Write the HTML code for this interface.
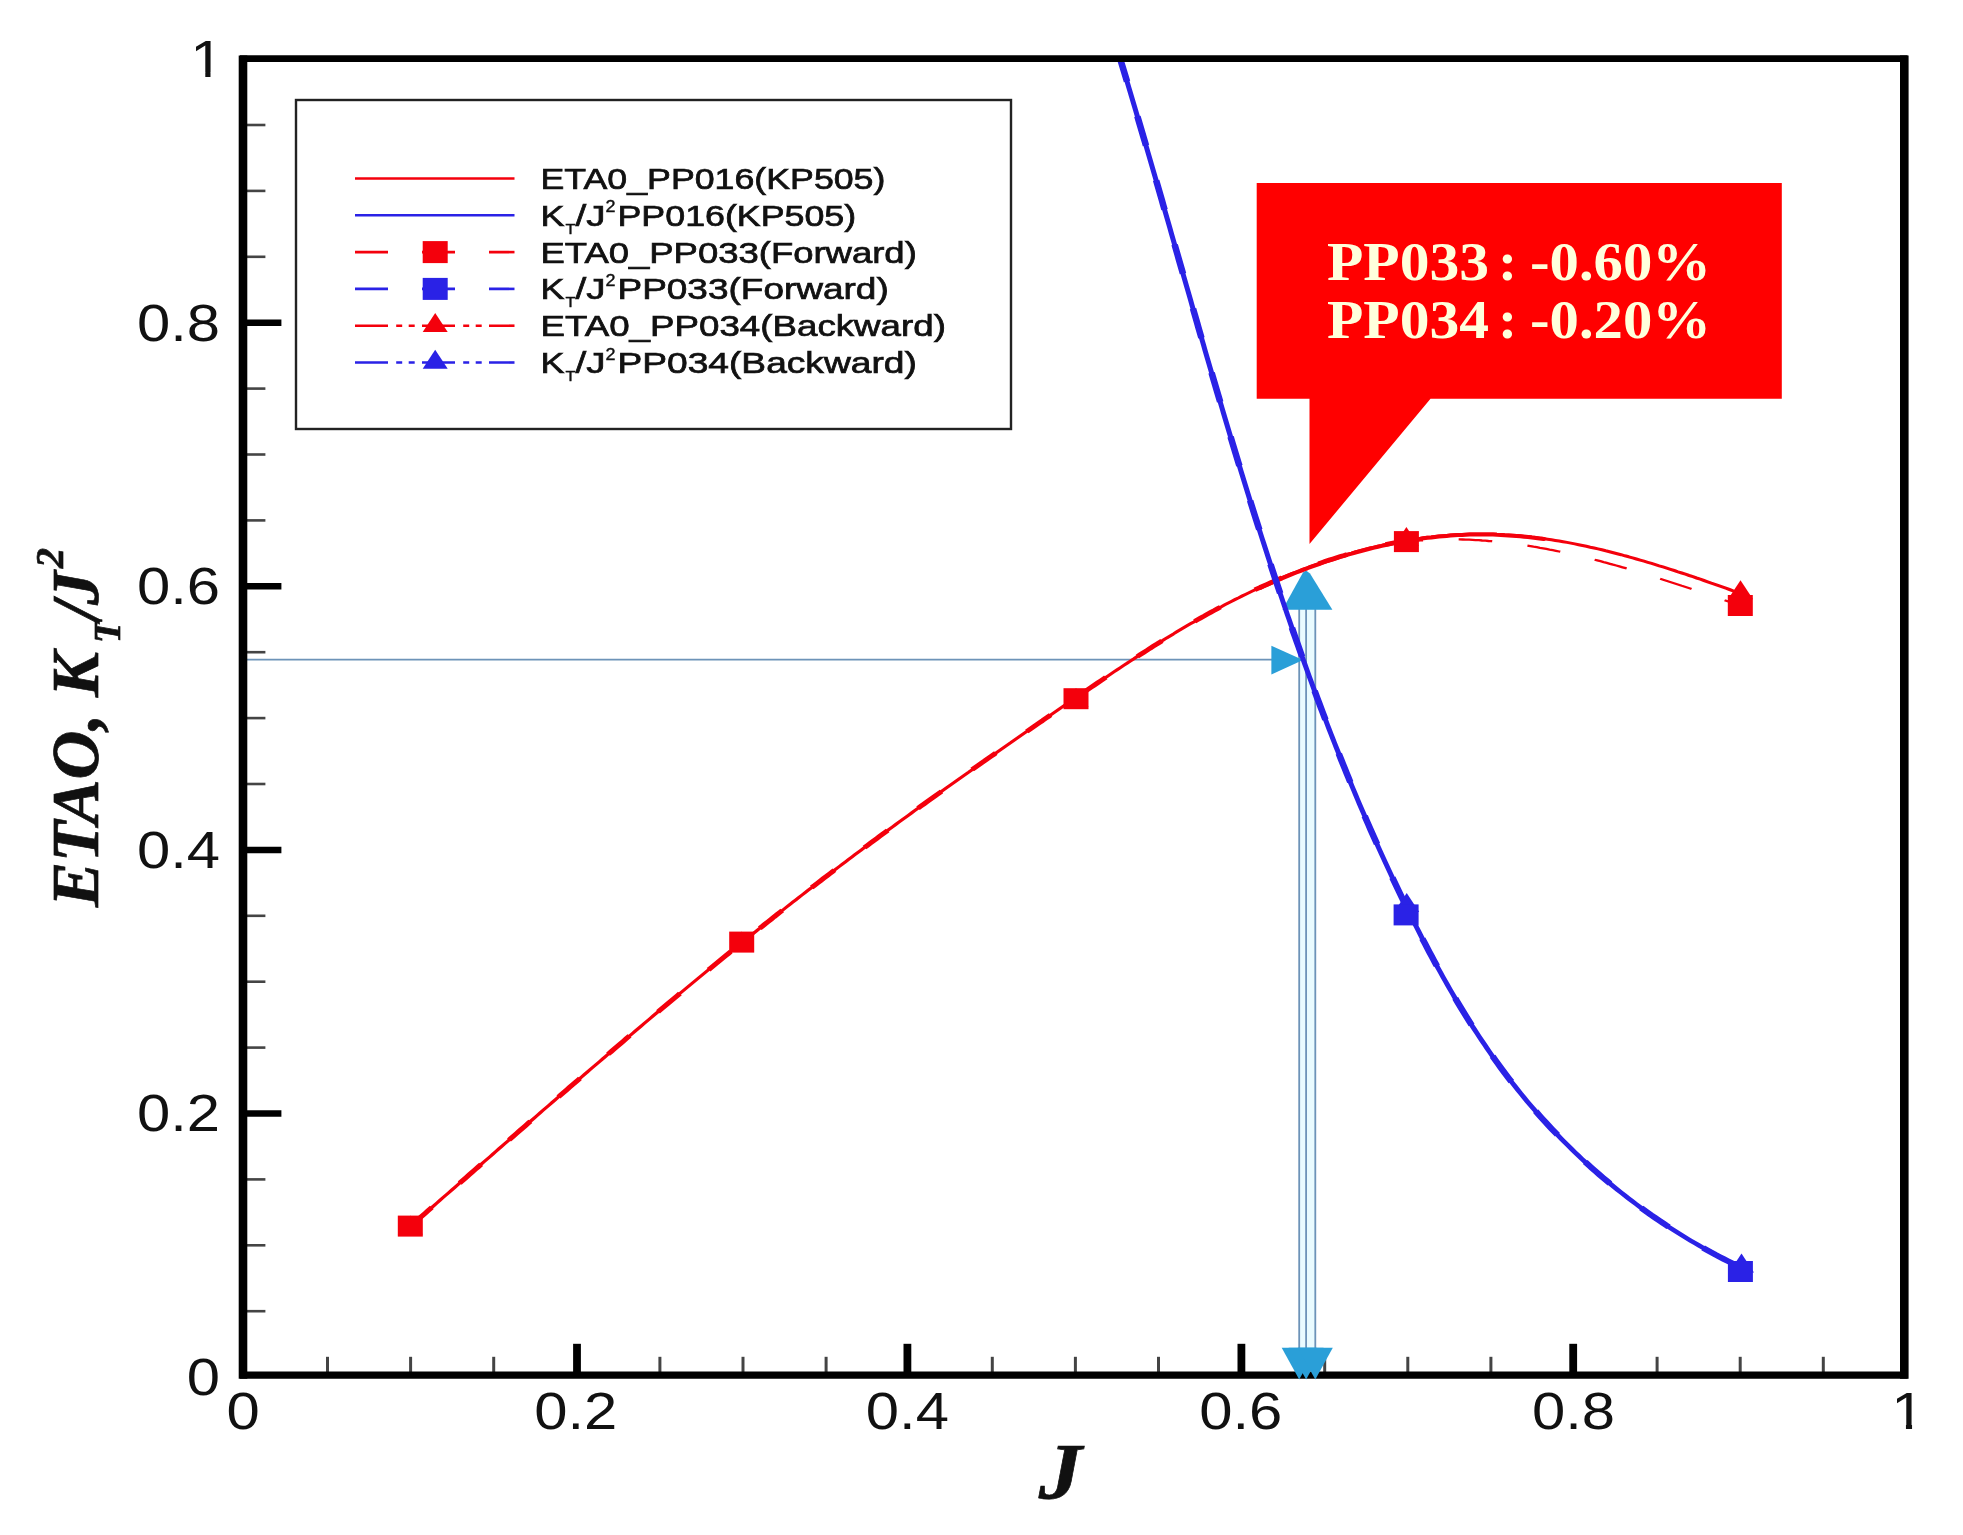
<!DOCTYPE html>
<html lang="en"><head><meta charset="utf-8"><title>ETAO, KT/J2 vs J</title>
<style>
html,body{margin:0;padding:0;background:#fff;}
body{width:1963px;height:1535px;overflow:hidden;}
svg{display:block;filter:blur(0.45px);}
.sans{font-family:"Liberation Sans",sans-serif;}
.serif{font-family:"Liberation Serif",serif;}
</style></head><body>
<svg width="1963" height="1535" viewBox="0 0 1963 1535">
<rect x="0" y="0" width="1963" height="1535" fill="#ffffff"/>

<g stroke="#000" fill="none">
<line x1="242.7" y1="1311.2" x2="265.4" y2="1311.2" stroke-width="2.6" stroke="#444"/>
<line x1="327.5" y1="1375.5" x2="327.5" y2="1356.8" stroke-width="3.0" stroke="#444"/>
<line x1="242.7" y1="1245.3" x2="265.4" y2="1245.3" stroke-width="2.6" stroke="#444"/>
<line x1="410.6" y1="1375.5" x2="410.6" y2="1356.8" stroke-width="3.0" stroke="#444"/>
<line x1="242.7" y1="1179.4" x2="265.4" y2="1179.4" stroke-width="2.6" stroke="#444"/>
<line x1="493.7" y1="1375.5" x2="493.7" y2="1356.8" stroke-width="3.0" stroke="#444"/>
<line x1="242.7" y1="1113.5" x2="281.4" y2="1113.5" stroke-width="6.5"/>
<line x1="577.0" y1="1375.5" x2="577.0" y2="1343.8" stroke-width="7.8"/>
<line x1="242.7" y1="1047.6" x2="265.4" y2="1047.6" stroke-width="2.6" stroke="#444"/>
<line x1="659.9" y1="1375.5" x2="659.9" y2="1356.8" stroke-width="3.0" stroke="#444"/>
<line x1="242.7" y1="981.7" x2="265.4" y2="981.7" stroke-width="2.6" stroke="#444"/>
<line x1="743.0" y1="1375.5" x2="743.0" y2="1356.8" stroke-width="3.0" stroke="#444"/>
<line x1="242.7" y1="915.8" x2="265.4" y2="915.8" stroke-width="2.6" stroke="#444"/>
<line x1="826.1" y1="1375.5" x2="826.1" y2="1356.8" stroke-width="3.0" stroke="#444"/>
<line x1="242.7" y1="849.9" x2="281.4" y2="849.9" stroke-width="6.5"/>
<line x1="907.4" y1="1375.5" x2="907.4" y2="1343.8" stroke-width="7.8"/>
<line x1="242.7" y1="784.0" x2="265.4" y2="784.0" stroke-width="2.6" stroke="#444"/>
<line x1="992.3" y1="1375.5" x2="992.3" y2="1356.8" stroke-width="3.0" stroke="#444"/>
<line x1="242.7" y1="718.1" x2="265.4" y2="718.1" stroke-width="2.6" stroke="#444"/>
<line x1="1075.4" y1="1375.5" x2="1075.4" y2="1356.8" stroke-width="3.0" stroke="#444"/>
<line x1="242.7" y1="652.2" x2="265.4" y2="652.2" stroke-width="2.6" stroke="#444"/>
<line x1="1158.5" y1="1375.5" x2="1158.5" y2="1356.8" stroke-width="3.0" stroke="#444"/>
<line x1="242.7" y1="586.3" x2="281.4" y2="586.3" stroke-width="6.5"/>
<line x1="1241.4" y1="1375.5" x2="1241.4" y2="1343.8" stroke-width="7.8"/>
<line x1="242.7" y1="520.4" x2="265.4" y2="520.4" stroke-width="2.6" stroke="#444"/>
<line x1="1324.7" y1="1375.5" x2="1324.7" y2="1356.8" stroke-width="3.0" stroke="#444"/>
<line x1="242.7" y1="454.5" x2="265.4" y2="454.5" stroke-width="2.6" stroke="#444"/>
<line x1="1407.8" y1="1375.5" x2="1407.8" y2="1356.8" stroke-width="3.0" stroke="#444"/>
<line x1="242.7" y1="388.6" x2="265.4" y2="388.6" stroke-width="2.6" stroke="#444"/>
<line x1="1490.9" y1="1375.5" x2="1490.9" y2="1356.8" stroke-width="3.0" stroke="#444"/>
<line x1="242.7" y1="322.7" x2="281.4" y2="322.7" stroke-width="6.5"/>
<line x1="1573.2" y1="1375.5" x2="1573.2" y2="1343.8" stroke-width="7.8"/>
<line x1="242.7" y1="256.8" x2="265.4" y2="256.8" stroke-width="2.6" stroke="#444"/>
<line x1="1657.1" y1="1375.5" x2="1657.1" y2="1356.8" stroke-width="3.0" stroke="#444"/>
<line x1="242.7" y1="190.9" x2="265.4" y2="190.9" stroke-width="2.6" stroke="#444"/>
<line x1="1740.2" y1="1375.5" x2="1740.2" y2="1356.8" stroke-width="3.0" stroke="#444"/>
<line x1="242.7" y1="125.0" x2="265.4" y2="125.0" stroke-width="2.6" stroke="#444"/>
<line x1="1823.3" y1="1375.5" x2="1823.3" y2="1356.8" stroke-width="3.0" stroke="#444"/>
</g>
<rect x="1299.2" y="609" width="16.1" height="740" fill="#e9fbff"/>
<g stroke="#6d93b8" stroke-width="1.8" fill="none">
<line x1="242.7" y1="659.7" x2="1275" y2="659.7"/>
<line x1="1299.2" y1="605" x2="1299.2" y2="1372"/>
<line x1="1306.1" y1="605" x2="1306.1" y2="1372"/>
<line x1="1315.3" y1="605" x2="1315.3" y2="1372"/>
</g>
<g fill="#2a9fd8">
<polygon points="1282.4,609.8 1303,572.5 1306,570.5 1310,573.5 1332.4,609.8"/>
<polygon points="1271.4,645.7 1303,660 1271.4,674.4"/>
</g>
<clipPath id="pc"><rect x="242.7" y="58.8" width="1661.6" height="1316.7"/></clipPath>
<g clip-path="url(#pc)">
<g fill="none" stroke-linejoin="round" transform="scale(1.18,1)">
<path d="M1195.73,541.3 L1198.47,540.9 L1201.21,540.7 L1203.95,540.4 L1206.70,540.2 L1209.44,540.0 L1212.18,539.8 L1214.92,539.7 L1217.66,539.6 L1220.40,539.5 L1223.14,539.4 L1225.88,539.4 L1228.62,539.3 L1231.36,539.3 L1234.10,539.4 L1236.84,539.4 L1239.58,539.5 L1242.31,539.6 L1245.05,539.7 L1247.79,539.9 L1250.52,540.1 L1253.26,540.2 L1255.99,540.5 L1258.72,540.7 L1261.46,541.0 L1264.19,541.2 L1266.92,541.5 L1269.65,541.9 L1272.38,542.2 L1275.10,542.6 L1277.83,542.9 L1280.56,543.3 L1283.28,543.8 L1286.01,544.2 L1288.73,544.7 L1291.45,545.1 L1294.17,545.6 L1296.89,546.1 L1299.61,546.7 L1302.32,547.2 L1305.04,547.8 L1307.75,548.3 L1310.46,548.9 L1313.17,549.6 L1315.88,550.2 L1318.59,550.8 L1321.30,551.5 L1324.00,552.1 L1326.70,552.8 L1329.40,553.5 L1332.10,554.2 L1334.80,555.0 L1337.50,555.7 L1340.19,556.5 L1342.88,557.2 L1345.57,558.0 L1348.26,558.8 L1350.95,559.6 L1353.63,560.4 L1356.32,561.2 L1359.00,562.1 L1361.67,562.9 L1364.35,563.8 L1367.02,564.7 L1369.70,565.5 L1372.36,566.4 L1375.03,567.3 L1377.70,568.2 L1380.36,569.1 L1383.02,570.1 L1385.68,571.0 L1388.33,571.9 L1390.98,572.9 L1393.63,573.8 L1396.28,574.8 L1398.93,575.8 L1401.57,576.7 L1404.21,577.7 L1406.85,578.7 L1409.48,579.7 L1412.11,580.7 L1414.74,581.7 L1417.37,582.7 L1419.99,583.7 L1422.61,584.7 L1425.23,585.8 L1427.84,586.8 L1430.45,587.8 L1433.06,588.8 L1435.67,589.9 L1438.27,590.9 L1440.87,591.9 L1443.46,593.0 L1446.05,594.0 L1448.64,595.1 L1451.23,596.1 L1453.81,597.1 L1456.39,598.2 L1458.97,599.2 L1461.54,600.3 L1464.11,601.3 L1466.67,602.3 L1469.23,603.4 L1471.79,604.4 L1474.35,605.5" stroke="#f4000c" stroke-width="2.3" stroke-dasharray="28.5 30.2" stroke-dashoffset="18.2"/>
<path d="M347.80,1226.1 L350.29,1223.5 L352.79,1221.0 L355.29,1218.4 L357.78,1215.8 L360.28,1213.3 L362.77,1210.7 L365.27,1208.1 L367.76,1205.6 L370.26,1203.0 L372.75,1200.4 L375.25,1197.8 L377.74,1195.3 L380.24,1192.7 L382.73,1190.1 L385.23,1187.6 L387.72,1185.0 L390.22,1182.4 L392.72,1179.8 L395.21,1177.3 L397.71,1174.7 L400.20,1172.1 L402.70,1169.5 L405.20,1167.0 L407.69,1164.4 L410.19,1161.8 L412.69,1159.2 L415.19,1156.7 L417.68,1154.1 L420.18,1151.5 L422.68,1148.9 L425.18,1146.4 L427.68,1143.8 L430.18,1141.2 L432.68,1138.6 L435.18,1136.1 L437.68,1133.5 L440.18,1130.9 L442.69,1128.3 L445.19,1125.8 L447.69,1123.2 L450.19,1120.6 L452.70,1118.1 L455.20,1115.5 L457.71,1112.9 L460.21,1110.3 L462.72,1107.8 L465.23,1105.2 L467.73,1102.6 L470.24,1100.1 L472.75,1097.5 L475.26,1094.9 L477.77,1092.4 L480.28,1089.8 L482.79,1087.2 L485.31,1084.7 L487.82,1082.1 L490.33,1079.6 L492.85,1077.0 L495.36,1074.4 L497.88,1071.9 L500.40,1069.3 L502.91,1066.8 L505.43,1064.2 L507.95,1061.7 L510.47,1059.1 L513.00,1056.6 L515.52,1054.0 L518.04,1051.5 L520.57,1048.9 L523.09,1046.4 L525.62,1043.8 L528.15,1041.3 L530.67,1038.7 L533.20,1036.2 L535.73,1033.7 L538.27,1031.1 L540.80,1028.6 L543.33,1026.1 L545.87,1023.5 L548.41,1021.0 L550.94,1018.5 L553.48,1015.9 L556.02,1013.4 L558.56,1010.9 L561.10,1008.4 L563.65,1005.9 L566.19,1003.3 L568.74,1000.8 L571.29,998.3 L573.84,995.8 L576.39,993.3 L578.94,990.8 L581.49,988.3 L584.04,985.8 L586.60,983.3 L589.16,980.8 L591.72,978.3 L594.28,975.8 L596.84,973.3 L599.40,970.8 L601.96,968.3 L604.53,965.8 L607.10,963.4 L609.67,960.9 L612.24,958.4 L614.81,955.9 L617.38,953.5 L619.96,951.0 L622.54,948.5 L625.11,946.1 L627.70,943.6 L630.28,941.1 L632.86,938.7 L635.45,936.2 L638.03,933.8 L640.62,931.3 L643.21,928.9 L645.81,926.5 L648.40,924.0 L651.00,921.6 L653.59,919.2 L656.19,916.7 L658.80,914.3 L661.40,911.9 L664.00,909.5 L666.61,907.0 L669.22,904.6 L671.83,902.2 L674.45,899.8 L677.06,897.4 L679.68,895.0 L682.30,892.6 L684.92,890.2 L687.54,887.8 L690.17,885.5 L692.79,883.1 L695.42,880.7 L698.05,878.3 L700.69,876.0 L703.32,873.6 L705.96,871.2 L708.60,868.9 L711.24,866.5 L713.88,864.1 L716.52,861.8 L719.17,859.4 L721.82,857.1 L724.47,854.7 L727.12,852.4 L729.77,850.1 L732.43,847.7 L735.08,845.4 L737.74,843.1 L740.40,840.7 L743.07,838.4 L745.73,836.1 L748.39,833.8 L751.06,831.5 L753.73,829.1 L756.40,826.8 L759.07,824.5 L761.75,822.2 L764.42,819.9 L767.10,817.6 L769.78,815.3 L772.46,813.0 L775.14,810.7 L777.82,808.4 L780.51,806.1 L783.19,803.9 L785.88,801.6 L788.57,799.3 L791.26,797.0 L793.95,794.7 L796.65,792.5 L799.34,790.2 L802.04,787.9 L804.74,785.6 L807.44,783.4 L810.14,781.1 L812.84,778.8 L815.54,776.6 L818.25,774.3 L820.96,772.1 L823.66,769.8 L826.37,767.5 L829.08,765.3 L831.79,763.0 L834.51,760.8 L837.22,758.5 L839.94,756.3 L842.65,754.1 L845.37,751.8 L848.09,749.6 L850.81,747.3 L853.53,745.1 L856.26,742.9 L858.98,740.6 L861.70,738.4 L864.43,736.1 L867.16,733.9 L869.89,731.7 L872.62,729.5 L875.35,727.2 L878.08,725.0 L880.81,722.8 L883.55,720.6 L886.28,718.3 L889.02,716.1 L891.75,713.9 L894.49,711.7 L897.23,709.4 L899.97,707.2 L902.71,705.0 L905.45,702.8 L908.20,700.6 L910.94,698.4 L913.68,696.1 L916.43,693.9 L919.18,691.7 L921.93,689.5 L924.68,687.3 L927.43,685.1 L930.18,682.9 L932.94,680.7 L935.69,678.5 L938.46,676.3 L941.22,674.1 L943.98,671.9 L946.75,669.8 L949.53,667.6 L952.30,665.4 L955.08,663.3 L957.86,661.1 L960.65,659.0 L963.44,656.8 L966.23,654.7 L969.03,652.6 L971.84,650.5 L974.64,648.3 L977.46,646.2 L980.28,644.2 L983.10,642.1 L985.93,640.0 L988.76,637.9 L991.60,635.9 L994.45,633.9 L997.30,631.8 L1000.16,629.8 L1003.02,627.8 L1005.89,625.8 L1008.77,623.8 L1011.66,621.9 L1014.55,619.9 L1017.45,618.0 L1020.36,616.1 L1023.27,614.1 L1026.19,612.2 L1029.13,610.4 L1032.06,608.5 L1035.01,606.7 L1037.96,604.8 L1040.92,603.0 L1043.89,601.2 L1046.86,599.4 L1049.85,597.7 L1052.84,595.9 L1055.83,594.2 L1058.84,592.5 L1061.85,590.8 L1064.86,589.1 L1067.89,587.4 L1070.92,585.8 L1073.95,584.2 L1077.00,582.6 L1080.05,581.0 L1083.10,579.5 L1086.16,577.9 L1089.23,576.4 L1092.31,574.9 L1095.39,573.4 L1098.48,572.0 L1101.57,570.6 L1104.67,569.1 L1107.77,567.8 L1110.88,566.4 L1114.00,565.1 L1117.12,563.8 L1120.24,562.5 L1123.37,561.2 L1126.51,560.0 L1129.65,558.8 L1132.80,557.6 L1135.95,556.4 L1139.11,555.3 L1142.27,554.1 L1145.44,553.1 L1148.61,552.0 L1151.78,551.0 L1154.97,550.0 L1158.15,549.0 L1161.34,548.0 L1164.53,547.1 L1167.73,546.2 L1170.93,545.4 L1174.14,544.5 L1177.35,543.7 L1180.57,542.9 L1183.78,542.2 L1187.01,541.5 L1190.23,540.8 L1193.46,540.1 L1196.69,539.5 L1199.93,538.9 L1203.17,538.4 L1206.41,537.8 L1209.66,537.3 L1212.91,536.9 L1216.16,536.4 L1219.42,536.0 L1222.68,535.7 L1225.94,535.4 L1229.20,535.1 L1232.47,534.8 L1235.74,534.6 L1239.01,534.4 L1242.29,534.2 L1245.57,534.1 L1248.85,534.0 L1252.13,534.0 L1255.41,534.0 L1258.70,534.0 L1261.99,534.0 L1265.28,534.1 L1268.57,534.3 L1271.86,534.4 L1275.16,534.7 L1278.46,534.9 L1281.75,535.2 L1285.05,535.5 L1288.35,535.8 L1291.65,536.2 L1294.95,536.6 L1298.25,537.1 L1301.55,537.5 L1304.85,538.1 L1308.15,538.6 L1311.45,539.2 L1314.75,539.8 L1318.05,540.4 L1321.34,541.0 L1324.64,541.7 L1327.93,542.4 L1331.23,543.1 L1334.52,543.9 L1337.81,544.7 L1341.09,545.5 L1344.38,546.3 L1347.66,547.2 L1350.94,548.0 L1354.21,548.9 L1357.49,549.8 L1360.76,550.8 L1364.02,551.7 L1367.29,552.7 L1370.54,553.7 L1373.80,554.7 L1377.05,555.8 L1380.30,556.8 L1383.54,557.9 L1386.78,559.0 L1390.01,560.1 L1393.23,561.2 L1396.46,562.3 L1399.67,563.4 L1402.88,564.6 L1406.09,565.8 L1409.29,566.9 L1412.48,568.1 L1415.67,569.3 L1418.85,570.5 L1422.02,571.8 L1425.19,573.0 L1428.35,574.2 L1431.50,575.5 L1434.65,576.7 L1437.78,578.0 L1440.91,579.2 L1444.03,580.5 L1447.15,581.8 L1450.25,583.1 L1453.35,584.3 L1456.44,585.6 L1459.52,586.9 L1462.59,588.2 L1465.65,589.5 L1468.70,590.8 L1471.74,592.1 L1474.77,593.4" stroke="#f4000c" stroke-width="3.0"/>
<path d="M347.80,1226.1 L350.29,1223.5 L352.79,1221.0 L355.29,1218.4 L357.78,1215.8 L360.28,1213.3 L362.77,1210.7 L365.27,1208.1 L367.76,1205.6 L370.26,1203.0 L372.75,1200.4 L375.25,1197.8 L377.74,1195.3 L380.24,1192.7 L382.73,1190.1 L385.23,1187.6 L387.72,1185.0 L390.22,1182.4 L392.72,1179.8 L395.21,1177.3 L397.71,1174.7 L400.20,1172.1 L402.70,1169.5 L405.20,1167.0 L407.69,1164.4 L410.19,1161.8 L412.69,1159.2 L415.19,1156.7 L417.68,1154.1 L420.18,1151.5 L422.68,1148.9 L425.18,1146.4 L427.68,1143.8 L430.18,1141.2 L432.68,1138.6 L435.18,1136.1 L437.68,1133.5 L440.18,1130.9 L442.69,1128.3 L445.19,1125.8 L447.69,1123.2 L450.19,1120.6 L452.70,1118.1 L455.20,1115.5 L457.71,1112.9 L460.21,1110.3 L462.72,1107.8 L465.23,1105.2 L467.73,1102.6 L470.24,1100.1 L472.75,1097.5 L475.26,1094.9 L477.77,1092.4 L480.28,1089.8 L482.79,1087.2 L485.31,1084.7 L487.82,1082.1 L490.33,1079.6 L492.85,1077.0 L495.36,1074.4 L497.88,1071.9 L500.40,1069.3 L502.91,1066.8 L505.43,1064.2 L507.95,1061.7 L510.47,1059.1 L513.00,1056.6 L515.52,1054.0 L518.04,1051.5 L520.57,1048.9 L523.09,1046.4 L525.62,1043.8 L528.15,1041.3 L530.67,1038.7 L533.20,1036.2 L535.73,1033.7 L538.27,1031.1 L540.80,1028.6 L543.33,1026.1 L545.87,1023.5 L548.41,1021.0 L550.94,1018.5 L553.48,1015.9 L556.02,1013.4 L558.56,1010.9 L561.10,1008.4 L563.65,1005.9 L566.19,1003.3 L568.74,1000.8 L571.29,998.3 L573.84,995.8 L576.39,993.3 L578.94,990.8 L581.49,988.3 L584.04,985.8 L586.60,983.3 L589.16,980.8 L591.72,978.3 L594.28,975.8 L596.84,973.3 L599.40,970.8 L601.96,968.3 L604.53,965.8 L607.10,963.4 L609.67,960.9 L612.24,958.4 L614.81,955.9 L617.38,953.5 L619.96,951.0 L622.54,948.5 L625.11,946.1 L627.70,943.6 L630.28,941.1 L632.86,938.7 L635.45,936.2 L638.03,933.8 L640.62,931.3 L643.21,928.9 L645.81,926.5 L648.40,924.0 L651.00,921.6 L653.59,919.2 L656.19,916.7 L658.80,914.3 L661.40,911.9 L664.00,909.5 L666.61,907.0 L669.22,904.6 L671.83,902.2 L674.45,899.8 L677.06,897.4 L679.68,895.0 L682.30,892.6 L684.92,890.2 L687.54,887.8 L690.17,885.5 L692.79,883.1 L695.42,880.7 L698.05,878.3 L700.69,876.0 L703.32,873.6 L705.96,871.2 L708.60,868.9 L711.24,866.5 L713.88,864.1 L716.52,861.8 L719.17,859.4 L721.82,857.1 L724.47,854.7 L727.12,852.4 L729.77,850.1 L732.43,847.7 L735.08,845.4 L737.74,843.1 L740.40,840.7 L743.07,838.4 L745.73,836.1 L748.39,833.8 L751.06,831.5 L753.73,829.1 L756.40,826.8 L759.07,824.5 L761.75,822.2 L764.42,819.9 L767.10,817.6 L769.78,815.3 L772.46,813.0 L775.14,810.7 L777.82,808.4 L780.51,806.1 L783.19,803.9 L785.88,801.6 L788.57,799.3 L791.26,797.0 L793.95,794.7 L796.65,792.5 L799.34,790.2 L802.04,787.9 L804.74,785.6 L807.44,783.4 L810.14,781.1 L812.84,778.8 L815.54,776.6 L818.25,774.3 L820.96,772.1 L823.66,769.8 L826.37,767.5 L829.08,765.3 L831.79,763.0 L834.51,760.8 L837.22,758.5 L839.94,756.3 L842.65,754.1 L845.37,751.8 L848.09,749.6 L850.81,747.3 L853.53,745.1 L856.26,742.9 L858.98,740.6 L861.70,738.4 L864.43,736.1 L867.16,733.9 L869.89,731.7 L872.62,729.5 L875.35,727.2 L878.08,725.0 L880.81,722.8 L883.55,720.6 L886.28,718.3 L889.02,716.1 L891.75,713.9 L894.49,711.7 L897.23,709.4 L899.97,707.2 L902.71,705.0 L905.45,702.8 L908.20,700.6 L910.94,698.4 L913.68,696.1 L916.43,693.9 L919.18,691.7 L921.93,689.5 L924.68,687.3 L927.43,685.1 L930.18,682.9 L932.94,680.7 L935.69,678.5 L938.46,676.3 L941.22,674.1 L943.98,671.9 L946.75,669.8 L949.53,667.6 L952.30,665.4 L955.08,663.3 L957.86,661.1 L960.65,659.0 L963.44,656.8 L966.23,654.7 L969.03,652.6 L971.84,650.5 L974.64,648.3 L977.46,646.2 L980.28,644.2 L983.10,642.1 L985.93,640.0 L988.76,637.9 L991.60,635.9 L994.45,633.9 L997.30,631.8 L1000.16,629.8 L1003.02,627.8 L1005.89,625.8 L1008.77,623.8 L1011.66,621.9 L1014.55,619.9 L1017.45,618.0 L1020.36,616.1 L1023.27,614.1 L1026.19,612.2 L1029.13,610.4 L1032.06,608.5 L1035.01,606.7 L1037.96,604.8 L1040.92,603.0 L1043.89,601.2 L1046.86,599.4 L1049.85,597.7 L1052.84,595.9 L1055.83,594.2 L1058.84,592.5 L1061.85,590.8 L1064.86,589.1 L1067.89,587.4 L1070.92,585.8 L1073.95,584.2 L1077.00,582.6 L1080.05,581.0 L1083.10,579.5 L1086.16,577.9 L1089.23,576.4 L1092.31,574.9 L1095.39,573.4 L1098.48,572.0 L1101.57,570.6 L1104.67,569.1 L1107.77,567.8 L1110.88,566.4 L1114.00,565.1 L1117.12,563.8 L1120.24,562.5 L1123.37,561.2 L1126.51,560.0 L1129.65,558.8 L1132.80,557.6 L1135.95,556.4 L1139.11,555.3 L1142.27,554.1 L1145.44,553.1 L1148.61,552.0 L1151.78,551.0 L1154.97,550.0 L1158.15,549.0 L1161.34,548.0 L1164.53,547.1 L1167.73,546.2 L1170.93,545.4 L1174.14,544.5 L1177.35,543.7 L1180.57,542.9 L1183.78,542.2 L1187.01,541.5 L1190.23,540.8 L1193.46,540.1" stroke="#f4000c" stroke-width="4.6" stroke-dasharray="26 34"/>
<path d="M1067.89,587.9 L1070.92,586.3 L1073.95,584.7 L1077.00,583.1 L1080.05,581.5 L1083.10,580.0 L1086.16,578.4 L1089.23,576.9 L1092.31,575.4 L1095.39,573.9 L1098.48,572.5 L1101.57,571.1 L1104.67,569.6 L1107.77,568.3 L1110.88,566.9 L1114.00,565.6 L1117.12,564.3 L1120.24,563.0 L1123.37,561.7 L1126.51,560.5 L1129.65,559.3 L1132.80,558.1 L1135.95,556.9 L1139.11,555.8 L1142.27,554.6 L1145.44,553.6 L1148.61,552.5 L1151.78,551.5 L1154.97,550.5 L1158.15,549.5 L1161.34,548.5 L1164.53,547.6 L1167.73,546.7 L1170.93,545.9 L1174.14,545.0 L1177.35,544.2 L1180.57,543.4 L1183.78,542.7 L1187.01,542.0 L1190.23,541.3 L1193.46,540.6 L1196.69,540.0 L1199.93,539.4 L1203.17,538.9 L1206.41,538.3 L1209.66,537.8 L1212.91,537.4 L1216.16,536.9 L1219.42,536.5 L1222.68,536.2 L1225.94,535.9 L1229.20,535.6 L1232.47,535.3 L1235.74,535.1 L1239.01,534.9 L1242.29,534.7 L1245.57,534.6 L1248.85,534.5 L1252.13,534.5 L1255.41,534.5 L1258.70,534.5 L1261.99,534.5 L1265.28,534.6 L1268.57,534.8 L1271.86,534.9 L1275.16,535.2 L1278.46,535.4 L1281.75,535.7 L1285.05,536.0 L1288.35,536.3 L1291.65,536.7 L1294.95,537.1 L1298.25,537.6 L1301.55,538.0 L1304.85,538.6 L1308.15,539.1" stroke="#f4000c" stroke-width="4.0" stroke-linecap="round"/>
<path d="M947.63,52.4 L948.79,56.9 L949.94,61.4 L951.09,65.8 L952.24,70.3 L953.39,74.8 L954.54,79.3 L955.68,83.8 L956.82,88.2 L957.96,92.7 L959.09,97.2 L960.22,101.7 L961.36,106.2 L962.49,110.7 L963.61,115.2 L964.74,119.7 L965.86,124.2 L966.99,128.7 L968.11,133.2 L969.23,137.7 L970.34,142.2 L971.46,146.7 L972.57,151.2 L973.69,155.7 L974.80,160.2 L975.91,164.7 L977.02,169.2 L978.13,173.7 L979.24,178.2 L980.34,182.7 L981.45,187.2 L982.55,191.7 L983.66,196.2 L984.76,200.7 L985.86,205.3 L986.96,209.8 L988.06,214.3 L989.17,218.8 L990.27,223.3 L991.37,227.8 L992.47,232.4 L993.56,236.9 L994.66,241.4 L995.76,245.9 L996.86,250.4 L997.96,254.9 L999.06,259.5 L1000.16,264.0 L1001.26,268.5 L1002.36,273.0 L1003.45,277.5 L1004.55,282.1 L1005.65,286.6 L1006.76,291.1 L1007.86,295.6 L1008.96,300.1 L1010.06,304.7 L1011.16,309.2 L1012.27,313.7 L1013.37,318.2 L1014.48,322.7 L1015.58,327.3 L1016.69,331.8 L1017.80,336.3 L1018.91,340.8 L1020.02,345.3 L1021.13,349.9 L1022.24,354.4 L1023.36,358.9 L1024.48,363.4 L1025.59,367.9 L1026.71,372.5 L1027.83,377.0 L1028.95,381.5 L1030.08,386.0 L1031.20,390.5 L1032.33,395.0 L1033.46,399.5 L1034.59,404.1 L1035.72,408.6 L1036.86,413.1 L1038.00,417.6 L1039.14,422.1 L1040.28,426.6 L1041.42,431.1 L1042.57,435.6 L1043.72,440.1 L1044.87,444.6 L1046.02,449.1 L1047.18,453.6 L1048.34,458.1 L1049.50,462.6 L1050.67,467.1 L1051.83,471.6 L1053.01,476.1 L1054.18,480.6 L1055.36,485.1 L1056.54,489.6 L1057.72,494.1 L1058.90,498.6 L1060.09,503.1 L1061.29,507.6 L1062.48,512.1 L1063.68,516.6 L1064.88,521.0 L1066.09,525.5 L1067.30,530.0 L1068.51,534.5 L1069.73,539.0 L1070.95,543.4 L1072.18,547.9 L1073.41,552.4 L1074.64,556.9 L1075.88,561.3 L1077.12,565.8 L1078.36,570.3 L1079.61,574.7 L1080.87,579.2 L1082.13,583.6 L1083.39,588.1 L1084.66,592.6 L1085.93,597.0 L1087.20,601.5 L1088.48,605.9 L1089.77,610.4 L1091.06,614.8 L1092.36,619.2 L1093.66,623.7 L1094.96,628.1 L1096.27,632.6 L1097.59,637.0 L1098.91,641.4 L1100.23,645.8 L1101.56,650.3 L1102.90,654.7 L1104.24,659.1 L1105.59,663.5 L1106.94,667.9 L1108.30,672.4 L1109.66,676.8 L1111.03,681.2 L1112.40,685.6 L1113.78,690.0 L1115.17,694.4 L1116.56,698.8 L1117.96,703.2 L1119.37,707.6 L1120.78,712.0 L1122.19,716.3 L1123.61,720.7 L1125.04,725.1 L1126.48,729.5 L1127.92,733.9 L1129.37,738.2 L1130.82,742.6 L1132.28,747.0 L1133.75,751.3 L1135.23,755.7 L1136.71,760.0 L1138.20,764.4 L1139.69,768.7 L1141.19,773.1 L1142.70,777.4 L1144.22,781.8 L1145.74,786.1 L1147.27,790.4 L1148.81,794.7 L1150.35,799.1 L1151.90,803.4 L1153.46,807.7 L1155.03,812.0 L1156.61,816.3 L1158.19,820.6 L1159.78,824.9 L1161.37,829.2 L1162.98,833.5 L1164.59,837.8 L1166.21,842.1 L1167.84,846.4 L1169.48,850.7 L1171.12,855.0 L1172.78,859.2 L1174.44,863.5 L1176.11,867.8 L1177.78,872.0 L1179.47,876.3 L1181.16,880.5 L1182.87,884.8 L1184.58,889.0 L1186.30,893.2 L1188.03,897.5 L1189.76,901.7 L1191.51,905.9 L1193.27,910.2 L1195.03,914.4 L1196.80,918.6 L1198.59,922.8 L1200.38,927.0 L1202.19,931.2 L1204.00,935.4 L1205.83,939.6 L1207.66,943.7 L1209.51,947.9 L1211.37,952.1 L1213.24,956.2 L1215.13,960.3 L1217.03,964.5 L1218.94,968.6 L1220.86,972.7 L1222.80,976.8 L1224.75,980.9 L1226.72,985.0 L1228.70,989.1 L1230.70,993.1 L1232.71,997.2 L1234.74,1001.2 L1236.78,1005.2 L1238.84,1009.3 L1240.92,1013.3 L1243.01,1017.2 L1245.12,1021.2 L1247.25,1025.2 L1249.39,1029.1 L1251.55,1033.0 L1253.74,1037.0 L1255.94,1040.9 L1258.16,1044.7 L1260.39,1048.6 L1262.65,1052.5 L1264.93,1056.3 L1267.23,1060.1 L1269.55,1063.9 L1271.89,1067.7 L1274.25,1071.5 L1276.63,1075.2 L1279.03,1078.9 L1281.46,1082.6 L1283.91,1086.3 L1286.38,1090.0 L1288.87,1093.6 L1291.39,1097.3 L1293.93,1100.9 L1296.49,1104.4 L1299.08,1108.0 L1301.69,1111.5 L1304.32,1115.1 L1306.97,1118.6 L1309.65,1122.0 L1312.34,1125.5 L1315.06,1128.9 L1317.80,1132.3 L1320.57,1135.7 L1323.35,1139.1 L1326.15,1142.4 L1328.98,1145.7 L1331.83,1149.0 L1334.69,1152.3 L1337.58,1155.5 L1340.49,1158.8 L1343.41,1162.0 L1346.36,1165.1 L1349.33,1168.3 L1352.32,1171.4 L1355.32,1174.5 L1358.35,1177.6 L1361.39,1180.6 L1364.46,1183.6 L1367.54,1186.6 L1370.64,1189.6 L1373.76,1192.5 L1376.89,1195.4 L1380.05,1198.3 L1383.22,1201.2 L1386.41,1204.0 L1389.62,1206.8 L1392.85,1209.6 L1396.09,1212.3 L1399.35,1215.1 L1402.63,1217.7 L1405.92,1220.4 L1409.23,1223.0 L1412.56,1225.7 L1415.90,1228.2 L1419.26,1230.8 L1422.63,1233.3 L1426.03,1235.8 L1429.43,1238.2 L1432.85,1240.7 L1436.29,1243.1 L1439.74,1245.4 L1443.21,1247.8 L1446.69,1250.1 L1450.18,1252.3 L1453.69,1254.6 L1457.22,1256.8 L1460.76,1259.0 L1464.31,1261.1 L1467.87,1263.2 L1471.45,1265.3 L1475.04,1267.4" stroke="#2a22e6" stroke-width="4.3"/>
<path d="M947.63,52.4 L948.79,56.9 L949.94,61.4 L951.09,65.8 L952.24,70.3 L953.39,74.8 L954.54,79.3 L955.68,83.8 L956.82,88.2 L957.96,92.7 L959.09,97.2 L960.22,101.7 L961.36,106.2 L962.49,110.7 L963.61,115.2 L964.74,119.7 L965.86,124.2 L966.99,128.7 L968.11,133.2 L969.23,137.7 L970.34,142.2 L971.46,146.7 L972.57,151.2 L973.69,155.7 L974.80,160.2 L975.91,164.7 L977.02,169.2 L978.13,173.7 L979.24,178.2 L980.34,182.7 L981.45,187.2 L982.55,191.7 L983.66,196.2 L984.76,200.7 L985.86,205.3 L986.96,209.8 L988.06,214.3 L989.17,218.8 L990.27,223.3 L991.37,227.8 L992.47,232.4 L993.56,236.9 L994.66,241.4 L995.76,245.9 L996.86,250.4 L997.96,254.9 L999.06,259.5 L1000.16,264.0 L1001.26,268.5 L1002.36,273.0 L1003.45,277.5 L1004.55,282.1 L1005.65,286.6 L1006.76,291.1 L1007.86,295.6 L1008.96,300.1 L1010.06,304.7 L1011.16,309.2 L1012.27,313.7 L1013.37,318.2 L1014.48,322.7 L1015.58,327.3 L1016.69,331.8 L1017.80,336.3 L1018.91,340.8 L1020.02,345.3 L1021.13,349.9 L1022.24,354.4 L1023.36,358.9 L1024.48,363.4 L1025.59,367.9 L1026.71,372.5 L1027.83,377.0 L1028.95,381.5 L1030.08,386.0 L1031.20,390.5 L1032.33,395.0 L1033.46,399.5 L1034.59,404.1 L1035.72,408.6 L1036.86,413.1 L1038.00,417.6 L1039.14,422.1 L1040.28,426.6 L1041.42,431.1 L1042.57,435.6 L1043.72,440.1 L1044.87,444.6 L1046.02,449.1 L1047.18,453.6 L1048.34,458.1 L1049.50,462.6 L1050.67,467.1 L1051.83,471.6 L1053.01,476.1 L1054.18,480.6 L1055.36,485.1 L1056.54,489.6 L1057.72,494.1 L1058.90,498.6 L1060.09,503.1 L1061.29,507.6 L1062.48,512.1 L1063.68,516.6 L1064.88,521.0 L1066.09,525.5 L1067.30,530.0 L1068.51,534.5 L1069.73,539.0 L1070.95,543.4 L1072.18,547.9 L1073.41,552.4 L1074.64,556.9 L1075.88,561.3 L1077.12,565.8 L1078.36,570.3 L1079.61,574.7 L1080.87,579.2 L1082.13,583.6 L1083.39,588.1 L1084.66,592.6 L1085.93,597.0 L1087.20,601.5 L1088.48,605.9 L1089.77,610.4 L1091.06,614.8 L1092.36,619.2 L1093.66,623.7 L1094.96,628.1 L1096.27,632.6 L1097.59,637.0 L1098.91,641.4 L1100.23,645.8 L1101.56,650.3 L1102.90,654.7 L1104.24,659.1 L1105.59,663.5 L1106.94,667.9 L1108.30,672.4 L1109.66,676.8 L1111.03,681.2 L1112.40,685.6 L1113.78,690.0 L1115.17,694.4 L1116.56,698.8 L1117.96,703.2 L1119.37,707.6 L1120.78,712.0 L1122.19,716.3 L1123.61,720.7 L1125.04,725.1 L1126.48,729.5 L1127.92,733.9 L1129.37,738.2 L1130.82,742.6 L1132.28,747.0 L1133.75,751.3 L1135.23,755.7 L1136.71,760.0 L1138.20,764.4 L1139.69,768.7 L1141.19,773.1 L1142.70,777.4 L1144.22,781.8 L1145.74,786.1 L1147.27,790.4 L1148.81,794.7 L1150.35,799.1 L1151.90,803.4 L1153.46,807.7 L1155.03,812.0 L1156.61,816.3 L1158.19,820.6 L1159.78,824.9 L1161.37,829.2 L1162.98,833.5 L1164.59,837.8 L1166.21,842.1 L1167.84,846.4 L1169.48,850.7 L1171.12,855.0 L1172.78,859.2 L1174.44,863.5 L1176.11,867.8 L1177.78,872.0 L1179.47,876.3 L1181.16,880.5 L1182.87,884.8 L1184.58,889.0 L1186.30,893.2 L1188.03,897.5 L1189.76,901.7 L1191.51,905.9 L1193.27,910.2 L1195.03,914.4 L1196.80,918.6 L1198.59,922.8 L1200.38,927.0 L1202.19,931.2 L1204.00,935.4 L1205.83,939.6 L1207.66,943.7 L1209.51,947.9 L1211.37,952.1 L1213.24,956.2 L1215.13,960.3 L1217.03,964.5 L1218.94,968.6 L1220.86,972.7 L1222.80,976.8 L1224.75,980.9 L1226.72,985.0 L1228.70,989.1 L1230.70,993.1 L1232.71,997.2 L1234.74,1001.2 L1236.78,1005.2 L1238.84,1009.3 L1240.92,1013.3 L1243.01,1017.2 L1245.12,1021.2 L1247.25,1025.2 L1249.39,1029.1 L1251.55,1033.0 L1253.74,1037.0 L1255.94,1040.9 L1258.16,1044.7 L1260.39,1048.6 L1262.65,1052.5 L1264.93,1056.3 L1267.23,1060.1 L1269.55,1063.9 L1271.89,1067.7 L1274.25,1071.5 L1276.63,1075.2 L1279.03,1078.9 L1281.46,1082.6 L1283.91,1086.3 L1286.38,1090.0 L1288.87,1093.6 L1291.39,1097.3 L1293.93,1100.9 L1296.49,1104.4 L1299.08,1108.0 L1301.69,1111.5 L1304.32,1115.1 L1306.97,1118.6 L1309.65,1122.0 L1312.34,1125.5 L1315.06,1128.9 L1317.80,1132.3 L1320.57,1135.7 L1323.35,1139.1 L1326.15,1142.4 L1328.98,1145.7 L1331.83,1149.0 L1334.69,1152.3 L1337.58,1155.5 L1340.49,1158.8 L1343.41,1162.0 L1346.36,1165.1 L1349.33,1168.3 L1352.32,1171.4 L1355.32,1174.5 L1358.35,1177.6 L1361.39,1180.6 L1364.46,1183.6 L1367.54,1186.6 L1370.64,1189.6 L1373.76,1192.5 L1376.89,1195.4 L1380.05,1198.3 L1383.22,1201.2 L1386.41,1204.0 L1389.62,1206.8 L1392.85,1209.6 L1396.09,1212.3 L1399.35,1215.1 L1402.63,1217.7 L1405.92,1220.4 L1409.23,1223.0 L1412.56,1225.7 L1415.90,1228.2 L1419.26,1230.8 L1422.63,1233.3 L1426.03,1235.8 L1429.43,1238.2 L1432.85,1240.7 L1436.29,1243.1 L1439.74,1245.4 L1443.21,1247.8 L1446.69,1250.1 L1450.18,1252.3 L1453.69,1254.6 L1457.22,1256.8 L1460.76,1259.0 L1464.31,1261.1 L1467.87,1263.2 L1471.45,1265.3 L1475.04,1267.4" stroke="#2a22e6" stroke-width="5.6" stroke-dasharray="30 36"/>
</g>
</g>
<g>
<polygon points="410.3,1215.4 422.8,1234.4 397.8,1234.4" fill="#f4000c"/>
<rect x="397.8" y="1215.6" width="25" height="21" fill="#f4000c"/>
<polygon points="741.7,931.4 754.2,950.4 729.2,950.4" fill="#f4000c"/>
<rect x="729.2" y="931.6" width="25" height="21" fill="#f4000c"/>
<polygon points="1076.0,688.0 1088.5,707.0 1063.5,707.0" fill="#f4000c"/>
<rect x="1063.5" y="688.2" width="25" height="21" fill="#f4000c"/>
<polygon points="1406.4,526.9 1418.9,545.9 1393.9,545.9" fill="#f4000c"/>
<rect x="1393.9" y="531.1" width="25" height="21" fill="#f4000c"/>
<polygon points="1740.5,580.3 1753.0,599.3 1728.0,599.3" fill="#f4000c"/>
<rect x="1727.8" y="595.0" width="25" height="21" fill="#f4000c"/>
<polygon points="1406.7,893.0 1419.2,912.0 1394.2,912.0" fill="#2a22e6"/>
<rect x="1393.6" y="904.4" width="25" height="21" fill="#2a22e6"/>
<polygon points="1741.5,1253.6 1754.0,1272.6 1729.0,1272.6" fill="#2a22e6"/>
<rect x="1727.9" y="1261.0" width="25" height="21" fill="#2a22e6"/>
</g>
<g stroke="#000" stroke-linecap="butt">
<line x1="243" y1="55.4" x2="243" y2="1378.8" stroke-width="8.6"/>
<line x1="1904.3" y1="55.4" x2="1904.3" y2="1378.8" stroke-width="8.6"/>
<line x1="240" y1="58.7" x2="1907.5" y2="58.7" stroke-width="6.8"/>
<line x1="240" y1="1375.2" x2="1907.5" y2="1375.2" stroke-width="7.2"/>
</g>
<g fill="#2a9fd8">
<polygon points="1281.7,1347.7 1316.7,1347.7 1299.2,1379.5"/>
<polygon points="1288.6,1347.7 1323.6,1347.7 1306.1,1379.5"/>
<polygon points="1297.8,1347.7 1332.8,1347.7 1315.3,1379.5"/>
</g>
<polygon points="1256.7,183 1781.8,183 1781.8,398.8 1430.5,398.8 1309.5,544 1309.5,398.8 1256.7,398.8" fill="#ff0000"/>
<g class="serif" font-weight="bold" font-size="54" fill="#ffffdc">
<text y="279.6" xml:space="preserve"><tspan x="1327" textLength="162" lengthAdjust="spacingAndGlyphs">PP033</tspan><tspan x="1483.6" textLength="48" lengthAdjust="spacingAndGlyphs"> : </tspan><tspan x="1530" textLength="181" lengthAdjust="spacingAndGlyphs">-0.60%</tspan></text>
<text y="338.0" xml:space="preserve"><tspan x="1327" textLength="162" lengthAdjust="spacingAndGlyphs">PP034</tspan><tspan x="1483.6" textLength="48" lengthAdjust="spacingAndGlyphs"> : </tspan><tspan x="1530" textLength="181" lengthAdjust="spacingAndGlyphs">-0.20%</tspan></text>
</g>
<rect x="296" y="100" width="715" height="329" fill="#fff" stroke="#222" stroke-width="2.4"/>
<line x1="355" y1="178.5" x2="514.5" y2="178.5" stroke="#f4000c" stroke-width="2.6"/>
<line x1="355" y1="215.3" x2="514.5" y2="215.3" stroke="#2a22e6" stroke-width="2.6"/>
<line x1="355" y1="252.1" x2="514.5" y2="252.1" stroke="#f4000c" stroke-width="2.6" stroke-dasharray="33 34"/>
<rect x="422.7" y="241.1" width="25" height="22" fill="#f4000c"/>
<line x1="355" y1="288.9" x2="514.5" y2="288.9" stroke="#2a22e6" stroke-width="2.6" stroke-dasharray="33 34"/>
<rect x="422.7" y="277.9" width="25" height="22" fill="#2a22e6"/>
<line x1="355" y1="325.7" x2="514.5" y2="325.7" stroke="#f4000c" stroke-width="2.6" stroke-dasharray="33 8.2 6 6.5 6 7.3"/>
<polygon points="435.2,313.0 447.7,332.0 422.7,332.0" fill="#f4000c"/>
<line x1="355" y1="362.5" x2="514.5" y2="362.5" stroke="#2a22e6" stroke-width="2.6" stroke-dasharray="33 8.2 6 6.5 6 7.3"/>
<polygon points="435.2,349.8 447.7,368.8 422.7,368.8" fill="#2a22e6"/>
<g class="sans" font-size="29" fill="#111" stroke="#111" stroke-width="0.7">
<text x="540.5" y="189.0" textLength="344.9" lengthAdjust="spacingAndGlyphs">ETA0_PP016(KP505)</text>
<text><tspan x="540.5" y="225.8" textLength="24" lengthAdjust="spacingAndGlyphs">K</tspan><tspan x="565.5" y="233.8" font-size="15" textLength="10" lengthAdjust="spacingAndGlyphs" stroke-width="0.4">T</tspan><tspan x="575.5" y="225.8" textLength="30" lengthAdjust="spacingAndGlyphs">/J</tspan><tspan x="605.5" y="212.3" font-size="17" textLength="10" lengthAdjust="spacingAndGlyphs" stroke-width="0.4">2</tspan><tspan x="617.5" y="225.8" textLength="238.7" lengthAdjust="spacingAndGlyphs">PP016(KP505)</tspan></text>
<text x="540.5" y="262.6" textLength="376.3" lengthAdjust="spacingAndGlyphs">ETA0_PP033(Forward)</text>
<text><tspan x="540.5" y="299.4" textLength="24" lengthAdjust="spacingAndGlyphs">K</tspan><tspan x="565.5" y="307.4" font-size="15" textLength="10" lengthAdjust="spacingAndGlyphs" stroke-width="0.4">T</tspan><tspan x="575.5" y="299.4" textLength="30" lengthAdjust="spacingAndGlyphs">/J</tspan><tspan x="605.5" y="285.9" font-size="17" textLength="10" lengthAdjust="spacingAndGlyphs" stroke-width="0.4">2</tspan><tspan x="617.5" y="299.4" textLength="271.2" lengthAdjust="spacingAndGlyphs">PP033(Forward)</tspan></text>
<text x="540.5" y="336.2" textLength="405.4" lengthAdjust="spacingAndGlyphs">ETA0_PP034(Backward)</text>
<text><tspan x="540.5" y="373.0" textLength="24" lengthAdjust="spacingAndGlyphs">K</tspan><tspan x="565.5" y="381.0" font-size="15" textLength="10" lengthAdjust="spacingAndGlyphs" stroke-width="0.4">T</tspan><tspan x="575.5" y="373.0" textLength="30" lengthAdjust="spacingAndGlyphs">/J</tspan><tspan x="605.5" y="359.5" font-size="17" textLength="10" lengthAdjust="spacingAndGlyphs" stroke-width="0.4">2</tspan><tspan x="617.5" y="373.0" textLength="299.3" lengthAdjust="spacingAndGlyphs">PP034(Backward)</tspan></text>
</g>
<g class="sans" font-size="52" fill="#111">
<text transform="translate(220.0,1394.9) scale(1.15,1)" text-anchor="end">0</text>
<text transform="translate(220.0,1131.3) scale(1.15,1)" text-anchor="end">0.2</text>
<text transform="translate(220.0,867.7) scale(1.15,1)" text-anchor="end">0.4</text>
<text transform="translate(220.0,604.1) scale(1.15,1)" text-anchor="end">0.6</text>
<text transform="translate(220.0,340.5) scale(1.15,1)" text-anchor="end">0.8</text>
<text transform="translate(223.4,76.9) scale(1.15,1)" text-anchor="end">1</text>
<text transform="translate(243.1,1428.8) scale(1.15,1)" text-anchor="middle">0</text>
<text transform="translate(575.8,1428.8) scale(1.15,1)" text-anchor="middle">0.2</text>
<text transform="translate(907.4,1428.8) scale(1.15,1)" text-anchor="middle">0.4</text>
<text transform="translate(1240.8,1428.8) scale(1.15,1)" text-anchor="middle">0.6</text>
<text transform="translate(1573.5,1428.8) scale(1.15,1)" text-anchor="middle">0.8</text>
<text transform="translate(1907.9,1428.8) scale(1.15,1)" text-anchor="middle">1</text>
</g>
<g fill="#fff">
<rect x="190" y="72.6" width="15.3" height="6.4"/><rect x="210.5" y="72.6" width="12" height="6.4"/>
<rect x="1891" y="1424.2" width="14.95" height="6.6"/><rect x="1912.05" y="1424.2" width="12" height="6.6"/>
</g>
<g class="serif" font-weight="bold" font-style="italic" fill="#111" stroke="#111" stroke-width="0.7">
<text transform="translate(1060.5,1499) scale(1.07,1)" font-size="81" text-anchor="middle">J</text>
<g transform="translate(98,907) rotate(-90)">
<text><tspan x="0" y="0" font-size="67.5">ETAO, K</tspan><tspan x="264" y="22" font-size="38">T</tspan><tspan x="287" y="0" font-size="67.5">/</tspan><tspan x="302" y="0" font-size="67.5">J</tspan><tspan x="339" y="-35" font-size="40">2</tspan></text>
</g>
</g>
</svg></body></html>
